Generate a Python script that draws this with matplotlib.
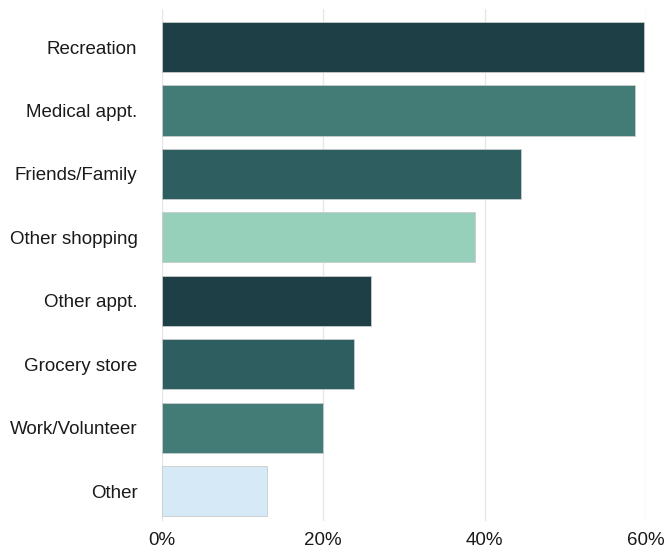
import matplotlib
matplotlib.use("Agg")
import matplotlib.pyplot as plt
from matplotlib.ticker import FuncFormatter

categories = ["Recreation", "Medical appt.", "Friends/Family", "Other shopping",
              "Other appt.", "Grocery store", "Work/Volunteer", "Other"]
values = [59.7, 58.6, 44.5, 38.8, 25.9, 23.8, 20.0, 13.0]
colors = ["#1f3f47", "#437c77", "#2e5e5f", "#96d0bb",
          "#1f3f47", "#2e5e5f", "#437c77", "#d5e9f7"]
xticks = [0, 20, 40, 60]

plt.rcParams['font.family'] = ['Liberation Sans', 'DejaVu Sans']

fig = plt.figure(figsize=(6.68, 5.48), dpi=100)
ax = fig.add_axes([0.2421, 0.0493, 0.9675 - 0.2421, 0.9836 - 0.0493])

y = list(range(len(categories)))
ax.barh(y, values, height=0.79, color=colors, edgecolor="#c8cccc",
        linewidth=0.6, zorder=3)

ax.set_xlim(0, 60)
ax.set_ylim(7.47, -0.6)
ax.set_yticks(y)
ax.set_yticklabels(categories, fontsize=13.5, color="#1a1a1a")
ax.set_xticks(xticks)
ax.xaxis.set_major_formatter(FuncFormatter(lambda v, p: f"{v:.0f}%"))
ax.tick_params(axis="x", labelsize=13.5, colors="#1a1a1a", length=0, pad=8)
ax.tick_params(axis="y", length=0, pad=17.5)
ax.grid(axis="x", color="#e6e6e6", linewidth=1.0, zorder=0)
ax.grid(axis="y", visible=False)
for s in ax.spines.values():
    s.set_visible(False)

fig.savefig("out.png", dpi=100)
